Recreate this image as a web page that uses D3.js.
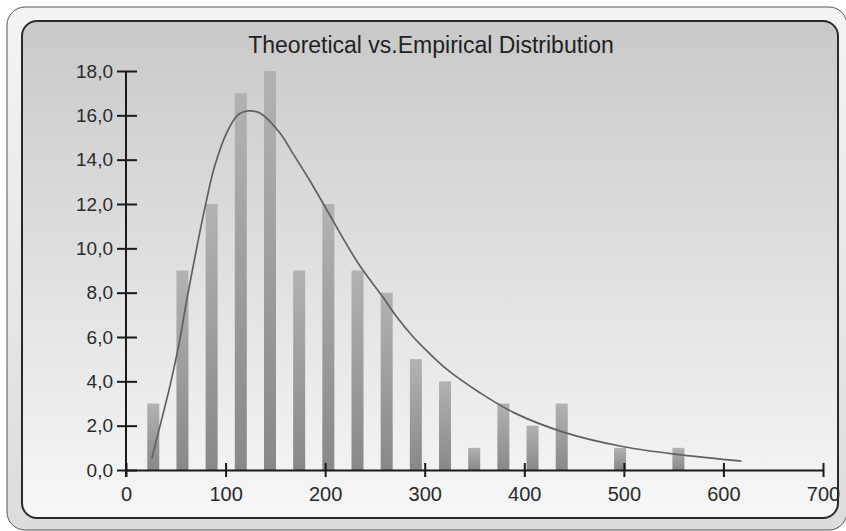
<!DOCTYPE html>
<html>
<head>
<meta charset="utf-8">
<script src="https://cdn.jsdelivr.net/npm/d3@7"></script>
<style>
  body { margin:0; background:#fff; }
  svg { display:block; font-family:"Liberation Sans", Arial, sans-serif; }
</style>
</head>
<body>
<div id="chart"></div>
<script>
// empirical histogram (bin centers, counts)
var binCenters = [27.4, 56.7, 86, 115.3, 144.6, 173.9, 203.2, 232.5, 261.8, 291.1, 320.4, 349.7, 379, 408.3, 437.6, 496.2, 554.8];
var binCounts  = [3, 9, 12, 17, 18, 9, 12, 9, 8, 5, 4, 1, 3, 2, 3, 1, 1];

// theoretical curve
var curveX = [26, 34, 44, 54, 61, 74, 81, 89, 101, 112, 123, 134.5, 154.6, 168, 184.7, 201.5, 218, 235, 258, 272, 288.5, 305, 322, 355, 389, 440, 500, 558, 618];
var curveY = [0.53, 1.96, 3.76, 5.87, 7.67, 10.7, 12.2, 13.7, 15.2, 16.0, 16.2, 16.1, 15.2, 14.25, 13.05, 11.75, 10.45, 9.2, 7.8, 6.9, 6.0, 5.25, 4.55, 3.5, 2.6, 1.7, 1.05, 0.68, 0.4];

var yTicks = [0, 2, 4, 6, 8, 10, 12, 14, 16, 18];
var xTicks = [0, 100, 200, 300, 400, 500, 600, 700];
var title = "Theoretical vs.Empirical Distribution";

var W = 846, H = 531;
var svg = d3.select("#chart").append("svg").attr("width", W).attr("height", H);
var defs = svg.append("defs");

var bgGrad = defs.append("linearGradient").attr("id","bg").attr("x1",0).attr("y1",0).attr("x2",0).attr("y2",1);
bgGrad.append("stop").attr("offset","0%").attr("stop-color","#c9c9c9");
bgGrad.append("stop").attr("offset","100%").attr("stop-color","#f7f7f7");

var frameGrad = defs.append("linearGradient").attr("id","frame").attr("x1",0).attr("y1",0).attr("x2",0).attr("y2",1);
frameGrad.append("stop").attr("offset","0%").attr("stop-color","#f4f4f4");
frameGrad.append("stop").attr("offset","100%").attr("stop-color","#dcdcdc");

var barGrad = defs.append("linearGradient").attr("id","bar").attr("x1",0).attr("y1",0).attr("x2",0).attr("y2",1);
barGrad.append("stop").attr("offset","0%").attr("stop-color","#b2b2b2");
barGrad.append("stop").attr("offset","100%").attr("stop-color","#888");

// outer bevel + inner panel
svg.append("rect").attr("x",7).attr("y",7).attr("width",840).attr("height",523)
    .attr("rx",18).attr("fill","url(#frame)").attr("stroke","#555").attr("stroke-width",1);
svg.append("rect").attr("x",22).attr("y",21).attr("width",816).attr("height",497)
    .attr("rx",15).attr("fill","url(#bg)").attr("stroke","#2a2a2a").attr("stroke-width",2);

svg.append("text").attr("x",431).attr("y",53).attr("text-anchor","middle")
    .attr("font-size",23).attr("fill","#222").text(title);

var x = d3.scaleLinear().domain([0, 700]).range([126, 823]);
var y = d3.scaleLinear().domain([0, 18]).range([470, 71]);

// bars
svg.append("g").selectAll("rect").data(binCenters).join("rect")
    .attr("x", function(d){ return x(d) - 6; })
    .attr("width", 12)
    .attr("y", function(d, i){ return y(binCounts[i]); })
    .attr("height", function(d, i){ return y(0) - y(binCounts[i]); })
    .attr("fill", "url(#bar)");

// theoretical curve
var pts = curveX.map(function(d, i){ return [d, curveY[i]]; });
var line = d3.line().x(function(d){ return x(d[0]); }).y(function(d){ return y(d[1]); })
    .curve(d3.curveCatmullRom.alpha(0.5));
svg.append("path").datum(pts).attr("d", line)
    .attr("fill","none").attr("stroke","#606060").attr("stroke-width",1.7);

// y axis
var yAxis = svg.append("g").attr("transform","translate(126,0)")
    .call(d3.axisLeft(y).tickValues(yTicks).tickSize(9).tickSizeOuter(0)
        .tickFormat(function(d){ return d3.format(".1f")(d).replace(".", ","); }));
yAxis.select(".domain").attr("d","M0,71V477").attr("stroke","#1a1a1a").attr("stroke-width",2);
yAxis.selectAll(".tick line").attr("x2",-9).attr("x1",11).attr("stroke","#1a1a1a").attr("stroke-width",2);
yAxis.selectAll(".tick text").attr("x",-13).attr("font-size",19).attr("fill","#2a2a2a")
    .attr("font-family","Liberation Sans, Arial, sans-serif");

// x axis
var xAxis = svg.append("g").attr("transform","translate(0,470)")
    .call(d3.axisBottom(x).tickValues(xTicks).tickSize(7).tickSizeOuter(0));
xAxis.select(".domain").attr("stroke","#1a1a1a").attr("stroke-width",2);
xAxis.selectAll(".tick line").attr("y1",-7).attr("y2",7).attr("stroke","#1a1a1a").attr("stroke-width",2);
xAxis.selectAll(".tick text").attr("y",17).attr("font-size",20).attr("fill","#2a2a2a")
    .attr("font-family","Liberation Sans, Arial, sans-serif");
</script>
</body>
</html>
